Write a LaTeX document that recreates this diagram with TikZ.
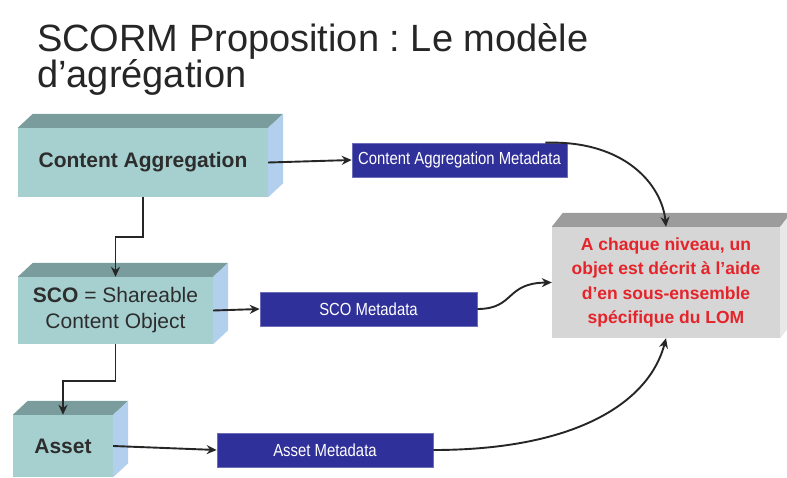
\documentclass[tikz,border=0pt]{standalone}
\usepackage{fontspec}
\setmainfont{Liberation Sans}
\newfontfamily\narrowfont[FakeStretch=0.85]{Liberation Sans}
\usetikzlibrary{arrows.meta}
\frenchspacing
\definecolor{tealfront}{RGB}{166,208,208}
\definecolor{tealtop}{RGB}{122,156,156}
\definecolor{tealside}{RGB}{178,208,238}
\definecolor{grayfront}{RGB}{214,214,214}
\definecolor{graytop}{RGB}{156,156,156}
\definecolor{grayside}{RGB}{232,232,232}
\definecolor{metablue}{RGB}{48,48,154}
\definecolor{lomred}{RGB}{228,36,42}
\definecolor{boxtext}{RGB}{45,45,45}
\newcommand\drawfaces[5]{%
  \fill[#4] (#1.north west) -- ++(#2,-#3) -- ([shift={(#2,-#3)}]#1.north east) -- (#1.north east) -- cycle;
  \fill[#5] (#1.north east) -- ++(#2,-#3) -- ([shift={(#2,-#3)}]#1.south east) -- (#1.south east) -- cycle;}
\begin{document}
\begin{tikzpicture}[x=1pt,y=-1pt,
  front/.style={fill=tealfront, inner sep=0pt, text=boxtext, align=center, font=\fontsize{21}{26}\selectfont},
  meta/.style={fill=metablue, draw=metablue!70!white, line width=0.6pt, inner sep=0pt, text=white, minimum height=34pt, font=\narrowfont\fontsize{17.5}{20}\selectfont},
  link/.style={line width=1.9pt, draw=black!85, -{Stealth[length=10pt,width=9pt]}},
  titletext/.style={anchor=base west, inner sep=0pt, text=black!85, font=\fontsize{38}{38}\selectfont},
]
\useasboundingbox (0,0) rectangle (787,477);
\clip (0,0) rectangle (787,477);

\node[titletext] (title1) at (37,51) {SCORM Proposition : Le modèle};
\node[titletext] (title2) at (37,87) {d'agrégation};

\node[front, minimum width=250pt, minimum height=69pt, font=\bfseries\fontsize{21}{26}\selectfont] (ca) at (143,162.5) {Content Aggregation};
\node[front, minimum width=195pt, minimum height=67pt] (sco) at (115.5,310.5) {\textbf{SCO} = Shareable\\Content Object};
\node[front, minimum width=100pt, minimum height=62pt, font=\bfseries\fontsize{21}{26}\selectfont] (asset) at (63,446) {Asset};
\node[front, fill=grayfront, text=lomred, minimum width=228pt, minimum height=111pt, font=\bfseries\fontsize{17.5}{24.5}\selectfont] (lom) at (666,282.5) {A chaque niveau, un\\objet est décrit à l'aide\\d'en sous-ensemble\\spécifique du LOM};

\drawfaces{ca}{15}{14}{tealtop}{tealside}
\drawfaces{sco}{15}{14}{tealtop}{tealside}
\drawfaces{asset}{15}{14}{tealtop}{tealside}
\drawfaces{lom}{11}{14}{graytop}{grayside}

\node[meta, minimum width=215pt] (cam) at (459.5,160) {Content Aggregation Metadata};
\node[meta, minimum width=217pt] (scom) at (368.5,309) {SCO Metadata};
\node[meta, minimum width=216pt] (am) at (325,450) {Asset Metadata};

\draw[link] (ca.east) -- (cam.west);
\draw[link] (ca.south) -- ++(0,40) -| (sco.north);
\draw[link] (sco.east) -- (scom.west);
\draw[link] (sco.south) -- ++(0,37) -| (asset.north);
\draw[link] (asset.east) -- (am.west);
\draw[link] ([xshift=-22pt]cam.north east) .. controls (625,140) and (662,185) .. (lom.north);
\draw[link] (scom.east) .. controls (515,309) and (505,283) .. (lom.west);
\draw[link] (am.east) .. controls (580,450) and (650,400) .. (lom.south);
\end{tikzpicture}
\end{document}
